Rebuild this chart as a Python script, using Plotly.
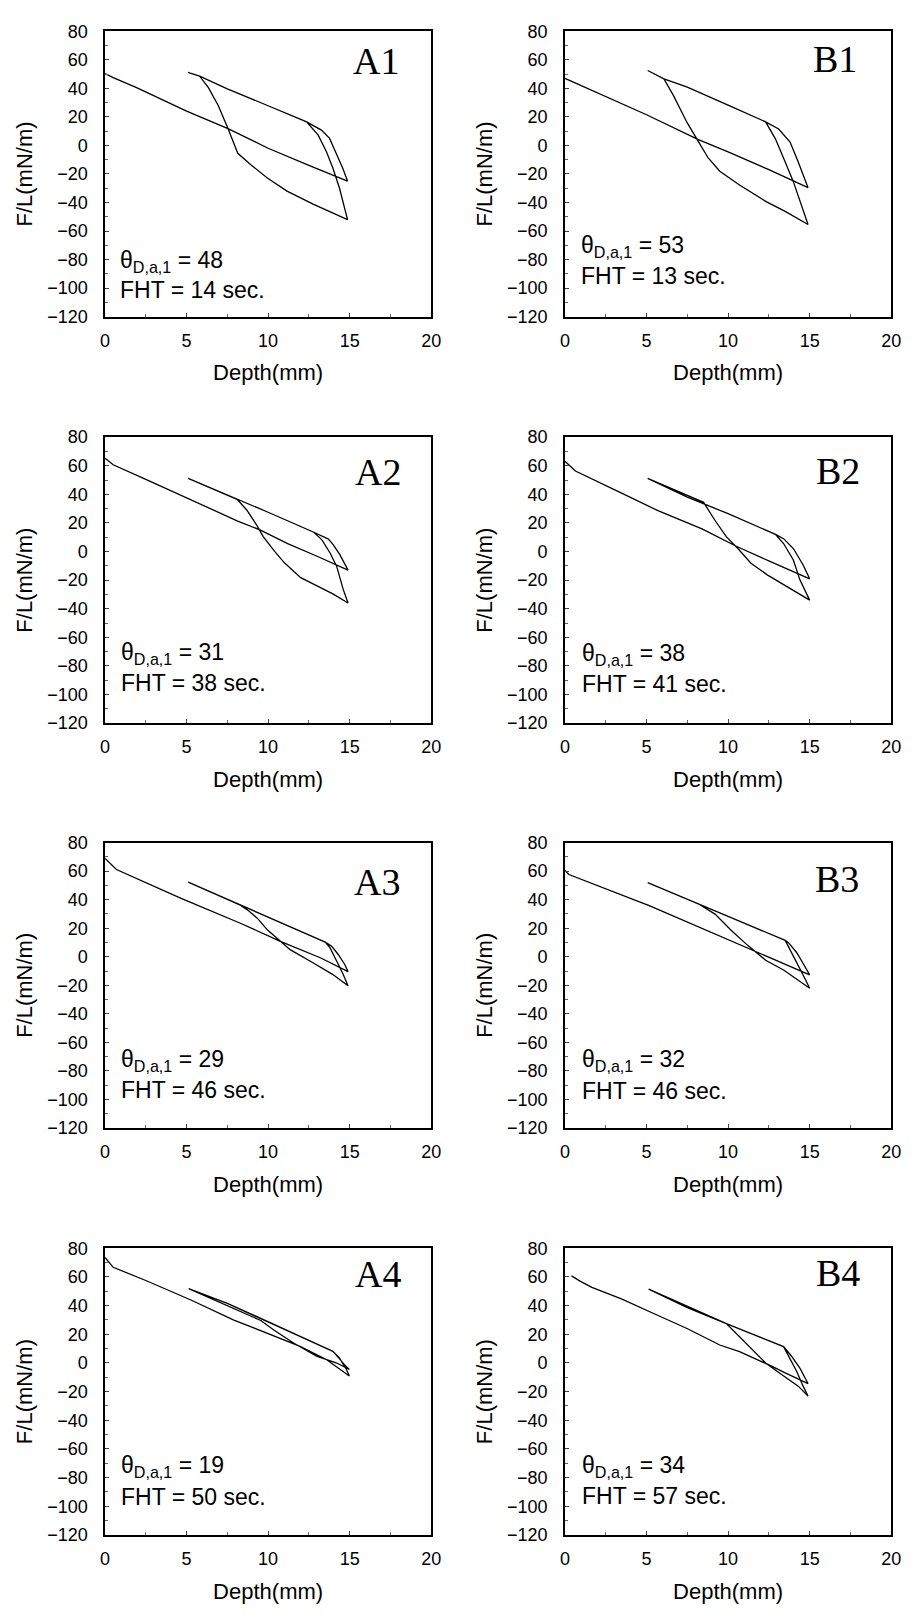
import plotly.graph_objects as go

# ---------------- data (depth in mm, force per length in mN/m) ----------------
panel_names = ["A1", "B1", "A2", "B2", "A3", "B3", "A4", "B4"]
theta_values = [48, 53, 31, 38, 29, 32, 19, 34]
fht_values = [14, 13, 38, 41, 46, 46, 50, 57]

A1_depth = [0, 0.5, 1.9, 5, 7.54, 10, 12.5, 14.87,
            14.57, 14.17, 13.77, 13.27, 12.36, 10, 7.5, 5.8, 5.08,
            5.8, 6.33, 6.94, 7.54, 8.14, 8.94, 9.95, 11.16, 12.76, 14.87,
            14.6, 14.37, 13.97, 13.57, 13.07, 12.36, 10, 7.5, 5.8, 5.08]
A1_force = [50.4, 47.5, 40.7, 24, 11.8, -2, -14, -25,
            -15.8, -5.5, 4.9, 10.7, 16.5, 27.8, 39.6, 48.5, 51.1,
            48.5, 40.7, 28, 11.8, -5.5, -13.5, -22.8, -32, -41.2, -52,
            -40, -29.7, -15.8, -4.3, 7.2, 16.5, 27.8, 39.6, 48.5, 51.1]

B1_depth = [0, 2.5, 5, 8.18, 10, 12.5, 14.9,
            14.3, 13.8, 13.1, 12.3, 10, 7.5, 6.07, 5.07,
            6.07, 6.67, 7.48, 8.18, 8.78, 9.49, 10.7, 12.3, 13.5, 14.9,
            14.4, 14.0, 13.5, 12.9, 12.3, 10, 7.5, 6.07, 5.07]
B1_force = [47, 34.5, 21.5, 4, -4.5, -17, -29.6,
            -11.6, 2.3, 11.5, 16.5, 28.2, 40.8, 46.6, 52.5,
            46.6, 34.5, 16.1, 2.7, -8.8, -18.1, -27.7, -39.2, -46.2, -55.4,
            -39.2, -25.4, -11.6, 4.6, 16.5, 28.2, 40.8, 46.6, 52.5]

A2_depth = [0, 0.5, 2.5, 5, 8.1, 9.5, 11.2, 13, 14.9,
            14.4, 14.0, 13.7, 13.2, 12.8, 10, 7.5, 5.1,
            8.1, 8.7, 9.3, 9.7, 10.4, 11.0, 12.0, 13.0, 14.0, 14.9,
            14.6, 14.2, 13.8, 13.3, 12.8, 10, 7.5, 5.1]
A2_force = [65.3, 60.7, 50.5, 37.5, 21.5, 15.1, 5.5, -3.3, -13,
            -2.2, 4.7, 8.7, 11.6, 13.5, 27.5, 39.4, 51.2,
            36.5, 28.9, 18.5, 10.5, 0.1, -7.9, -18.3, -24, -29.8, -36,
            -26.3, -10.2, -1, 8.2, 13.5, 27.5, 39.4, 51.2]

B2_depth = [0, 0.64, 3.6, 5.7, 8.4, 10.5, 12.6, 15,
            14.6, 14.0, 13.4, 12.9, 10, 7.5, 5.07,
            8.5, 9.2, 9.9, 10.6, 11.4, 12.4, 13.6, 15,
            14.4, 14.0, 13.4, 12.9, 10, 7.5, 5.07]
B2_force = [63.2, 56.3, 40.1, 28.6, 15.9, 3.7, -7.1, -19.1,
            -9.4, 2.1, 9, 12, 26.5, 38, 51.2,
            34.4, 21.7, 10.2, 2.1, -8.2, -16.3, -24.4, -34,
            -19.8, -5.9, 5.6, 12, 26.5, 38, 51.2]

A3_depth = [0, 0.7, 4.7, 8.3, 10.75, 13.2, 14.9,
            14.7, 14.3, 13.9, 13.5, 10, 7.5, 5.1,
            8.3, 8.75, 9.35, 9.95, 10.75, 11.35, 12.75, 13.95, 14.9,
            14.6, 14.2, 13.8, 13.5, 10, 7.5, 5.1]
A3_force = [68.9, 61.1, 40.8, 23.5, 10.8, -0.7, -10.4,
            -5.4, 1.6, 7.3, 10.3, 27.8, 40.3, 52.3,
            36.2, 32.7, 26.9, 18.9, 10.8, 5, -4.2, -12.3, -20.3,
            -12.3, -3, 6.2, 10.3, 27.8, 40.3, 52.3]

B3_depth = [0, 0.24, 5.2, 9.2, 11.8, 13.8, 15,
            14.6, 14.2, 13.7, 13.5, 10, 7.5, 5.07,
            8.2, 9.2, 10.2, 11.2, 12.3, 13.4, 15,
            14.7, 14.3, 13.9, 13.5, 10, 7.5, 5.07]
B3_force = [60.4, 57.6, 35.7, 16.1, 3, -7, -12.7,
            -4.7, 3, 9.9, 11.5, 28.3, 40.2, 51.9,
            37, 29.9, 18.4, 8, -2.4, -9.3, -22,
            -15, -5.8, 2.3, 11.5, 28.3, 40.2, 51.9]

A4_depth = [0, 0.5, 2.5, 5.3, 7.9, 9.95, 11.96, 13.57, 14.98,
            14.78, 14.37, 13.97, 9.55, 7.5, 5.13,
            9.55, 10.35, 11.56, 12.97, 13.57, 14.17, 14.98,
            14.7, 14.37, 13.97, 9.55, 7.5, 5.13]
A4_force = [73.6, 66.7, 57.5, 43.7, 29.9, 20.8, 11.6, 2.4, -9.1,
            -4.1, 3.5, 8.1, 31.1, 41.5, 51.8,
            29.6, 23, 13.9, 4.7, 2.4, 0.1, -4.5,
            -1.5, 3, 8.1, 31.1, 41.5, 51.8]

B4_depth = [0.4, 0.95, 1.65, 3.46, 5.47, 7.48, 9.49, 10.7, 12.7, 13.5, 14.9,
            14.4, 13.9, 13.4, 9.89, 7.5, 5.13,
            9.89, 10.7, 11.5, 12.3, 13.3, 14.3, 14.9,
            14.6, 14.2, 13.7, 13.4, 9.89, 7.5, 5.13]
B4_force = [60.7, 56.9, 52.7, 44.7, 34.3, 24, 12.5, 7.9, -2.4, -7, -14.4,
            -3.6, 4.5, 11.4, 27.4, 38.6, 51.5,
            27.4, 18.3, 9.0, -0.1, -8.2, -16.2, -23.1,
            -16.2, -5.8, 4.5, 11.4, 27.4, 38.6, 51.5]

panel_depths = [A1_depth, B1_depth, A2_depth, B2_depth, A3_depth, B3_depth, A4_depth, B4_depth]
panel_forces = [A1_force, B1_force, A2_force, B2_force, A3_force, B3_force, A4_force, B4_force]

# annotation anchor positions (data units) for the theta / FHT text
text_x = [0.8, 0.84, 0.86, 0.9, 0.86, 0.9, 0.86, 0.94]
theta_y = [-81, -71, -71.5, -72, -72.6, -73, -72.5, -72]
fht_y = [-101, -91.5, -92.2, -92.7, -93.3, -93.8, -93.2, -92.7]

x_ticks = [0, 5, 10, 15, 20]
y_ticks = [-120, -100, -80, -60, -40, -20, 0, 20, 40, 60, 80]

# ---------------- layout geometry ----------------
W, H = 915, 1621
col_px = [(101.7, 433.3), (569.3, 901.0)]
row_px = [(21.5, 310.5), (432.5, 722.0), (843.0, 1132.0), (1253.7, 1544.0)]
label_pos = [(0.906, 0.897), (0.90, 0.901), (0.915, 0.878), (0.91, 0.883),
             (0.909, 0.863), (0.906, 0.872), (0.915, 0.911), (0.91, 0.915)]

SANS = "Liberation Sans, Arial, sans-serif"
SERIF = "Liberation Serif, Times New Roman, serif"

fig = go.Figure()
layout = dict(width=W, height=H, autosize=False,
              margin=dict(l=0, r=0, t=0, b=0),
              paper_bgcolor="white", plot_bgcolor="white",
              showlegend=False, font=dict(family=SANS, color="black"))
annotations = []

for i, name in enumerate(panel_names):
    r, c = divmod(i, 2)
    n = i + 1
    xa = "x" if n == 1 else f"x{n}"
    ya = "y" if n == 1 else f"y{n}"
    fig.add_trace(go.Scatter(x=panel_depths[i], y=panel_forces[i], mode="lines",
                             line=dict(color="black", width=1.3),
                             xaxis=xa, yaxis=ya, hoverinfo="skip"))
    x0, x1 = col_px[c]
    t, b = row_px[r]
    common = dict(showgrid=False, zeroline=False, showline=True, mirror=True,
                  linecolor="black", linewidth=1.5, ticks="inside", ticklen=4,
                  tickwidth=1, tickcolor="#444",
                  tickfont=dict(family=SANS, size=18, color="black"))
    layout["xaxis" if n == 1 else f"xaxis{n}"] = dict(
        common, domain=[x0 / W, x1 / W], anchor=ya, range=[0, 20],
        tickvals=x_ticks, ticklabelstandoff=7,
        minor=dict(ticks="inside", dtick=2.5, ticklen=3, tickcolor="#666"),
        title=dict(text="Depth(mm)", font=dict(family=SANS, size=22), standoff=15))
    layout["yaxis" if n == 1 else f"yaxis{n}"] = dict(
        common, domain=[1 - b / H, 1 - t / H], anchor=xa, range=[-120, 80],
        tickvals=y_ticks, ticklabelstandoff=12,
        minor=dict(ticks="inside", dtick=10, ticklen=3, tickcolor="#666"),
        title=dict(text="F/L(mN/m)", font=dict(family=SANS, size=22), standoff=8))
    lx, ly = label_pos[i]
    annotations.append(dict(text=name, xref=f"{xa} domain", yref=f"{ya} domain",
                            x=lx, y=ly, xanchor="right", yanchor="middle", showarrow=False,
                            font=dict(family=SERIF, size=38, color="black")))
    annotations.append(dict(text=f"θ<sub>D,a,1</sub> = {theta_values[i]}", xref=xa, yref=ya,
                            x=text_x[i], y=theta_y[i], xanchor="left", yanchor="middle",
                            showarrow=False, font=dict(family=SANS, size=23, color="black")))
    annotations.append(dict(text=f"FHT = {fht_values[i]} sec.", xref=xa, yref=ya,
                            x=text_x[i], y=fht_y[i], xanchor="left", yanchor="middle",
                            showarrow=False, font=dict(family=SANS, size=23, color="black")))

layout["annotations"] = annotations
fig.update_layout(**layout)
fig.write_html("out.html")
